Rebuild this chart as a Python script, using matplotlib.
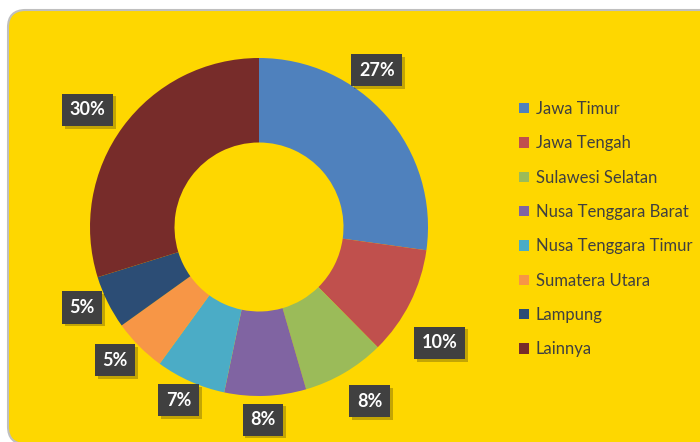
import numpy as np
import matplotlib
matplotlib.use("Agg")
import matplotlib.pyplot as plt
import matplotlib.patheffects as pe
from matplotlib.patches import FancyBboxPatch

categories = ["Jawa Timur", "Jawa Tengah", "Sulawesi Selatan", "Nusa Tenggara Barat",
              "Nusa Tenggara Timur", "Sumatera Utara", "Lampung", "Lainnya"]
values = [27.2, 10.4, 7.9, 7.8, 6.7, 5.1, 5.1, 29.8]
colors = ["#4F81BD", "#C0504D", "#9BBB59", "#8064A2", "#4BACC6", "#F79646", "#2C4D75", "#772C2A"]
label_angle_nudge = [12, -6, 2, -1, -1, -2, -2, 2]
label_radius = [1.16, 1.27, 1.22, 1.14, 1.13, 1.16, 1.15, 1.23]

fig = plt.figure(figsize=(7, 4.42), dpi=100)
fig.patch.set_facecolor("white")

bg = FancyBboxPatch((8/700, -2/442), 720/700, 434/442,
                    boxstyle="round,pad=0,rounding_size=0.025",
                    transform=fig.transFigure, facecolor="#FED700",
                    edgecolor="#BFBFBF", linewidth=1.5, mutation_aspect=700/442, zorder=-10)
fig.patches.append(bg)

ax = fig.add_axes([90/700, 46/442, 338/700, 338/442])
ax.set_facecolor("none")
ax.set_zorder(1)
wedges, _ = ax.pie(values, colors=colors, startangle=90, counterclock=False,
                   radius=1.0, wedgeprops=dict(width=0.5, edgecolor="none"))
ax.set_xlim(-1, 1)
ax.set_ylim(-1, 1)
ax.set_aspect("equal")
ax.axis("off")

total = sum(values)
for w, v, nudge, rr in zip(wedges, values, label_angle_nudge, label_radius):
    mid = np.deg2rad((w.theta1 + w.theta2) / 2 + nudge)
    x, y = rr * np.cos(mid), rr * np.sin(mid)
    t = ax.text(x, y, f"{round(v / total * 100):d}%", ha="center", va="center",
                color="white", fontsize=13, fontweight="bold", family="Lato",
                bbox=dict(boxstyle="square,pad=0.42", facecolor="#404040", edgecolor="none"),
                clip_on=False, zorder=5)
    t.get_bbox_patch().set_path_effects([pe.SimplePatchShadow(offset=(2, -2), alpha=0.25),
                                         pe.Normal()])

leg = fig.legend(wedges, categories, loc="upper left", bbox_to_anchor=(504/700, 1 - 86/442),
                 frameon=False, handlelength=0.6, handleheight=0.6, handletextpad=0.4,
                 labelspacing=1.1, prop=dict(family="Lato", size=12))
leg.set_zorder(2)
for t in leg.get_texts():
    t.set_color("#404040")

fig.savefig("out.png", dpi=100, facecolor=fig.get_facecolor())
